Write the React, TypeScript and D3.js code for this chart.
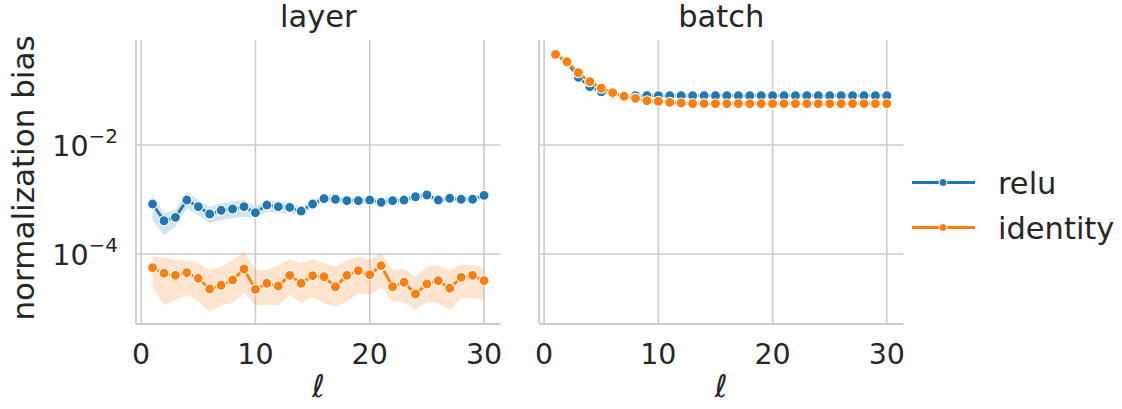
import React from "react";
import * as d3 from "d3";

// ---- data ----
const layers = [1,2,3,4,5,6,7,8,9,10,11,12,13,14,15,16,17,18,19,20,21,22,23,24,25,26,27,28,29,30];
const panels = ["layer", "batch"];
const seriesNames = ["relu", "identity"];
const xTicks = [0, 10, 20, 30];
const yTicks = [1e-2, 1e-4];
const yTickExponents = ["−2", "−4"];

// layer normalization
const layerRelu = [8.26e-4,4.08e-4,4.71e-4,9.79e-4,7.38e-4,5.42e-4,6.34e-4,6.70e-4,7.38e-4,5.73e-4,7.92e-4,7.38e-4,7.19e-4,6.15e-4,8.26e-4,1.035e-3,1.009e-3,9.51e-4,9.51e-4,9.79e-4,8.89e-4,9.51e-4,9.79e-4,1.125e-3,1.21e-3,9.79e-4,1.052e-3,1.009e-3,1.009e-3,1.194e-3];
const layerReluHi = [1.21e-3,5.58e-4,6.41e-4,1.39e-3,9.79e-4,7.38e-4,8.51e-4,9.12e-4,9.79e-4,7.38e-4,9.79e-4,9.12e-4,8.51e-4,7.38e-4,9.79e-4,1.21e-3,1.21e-3,1.125e-3,1.125e-3,1.125e-3,1.052e-3,1.125e-3,1.125e-3,1.30e-3,1.39e-3,1.125e-3,1.21e-3,1.16e-3,1.16e-3,1.39e-3];
const layerReluLo = [4.21e-4,2.23e-4,3.17e-4,6.90e-4,5.20e-4,3.66e-4,4.21e-4,4.52e-4,4.83e-4,4.52e-4,5.97e-4,5.58e-4,5.58e-4,5.20e-4,6.90e-4,8.73e-4,8.51e-4,7.92e-4,7.92e-4,8.51e-4,7.38e-4,7.92e-4,8.51e-4,9.51e-4,1.009e-3,8.51e-4,9.12e-4,8.73e-4,8.73e-4,1.009e-3];
const layerIdentity = [5.61e-5,4.43e-5,4.06e-5,4.54e-5,3.58e-5,2.28e-5,2.67e-5,3.33e-5,5.31e-5,2.25e-5,2.90e-5,2.59e-5,4.06e-5,2.90e-5,4.00e-5,3.83e-5,2.51e-5,4.06e-5,4.94e-5,4.17e-5,6.10e-5,2.51e-5,3.03e-5,1.85e-5,2.82e-5,3.24e-5,2.35e-5,3.73e-5,4.06e-5,3.24e-5];
const layerIdentityHi = [8.91e-5,8.69e-5,7.76e-5,7.54e-5,6.75e-5,5.08e-5,5.85e-5,7.76e-5,1.10e-4,5.08e-5,5.08e-5,6.28e-5,8.00e-5,6.75e-5,8.00e-5,6.75e-5,5.85e-5,7.76e-5,8.91e-5,7.76e-5,1.03e-4,5.08e-5,5.47e-5,3.83e-5,5.85e-5,6.28e-5,5.08e-5,6.28e-5,6.28e-5,5.47e-5];
const layerIdentityLo = [2.51e-5,1.16e-5,1.43e-5,1.77e-5,1.33e-5,8.73e-6,1.16e-5,1.25e-5,1.90e-5,1.16e-5,1.16e-5,1.16e-5,1.77e-5,1.25e-5,1.65e-5,1.25e-5,1.08e-5,1.33e-5,1.90e-5,1.77e-5,2.51e-5,1.33e-5,1.33e-5,9.38e-6,1.33e-5,1.25e-5,9.38e-6,1.54e-5,1.54e-5,1.43e-5];

// batch normalization
const batchRelu = [0.455,0.33,0.175,0.1175,0.095,0.0863,0.081,0.0804,0.0804,0.0804,0.0804,0.0804,0.0804,0.0804,0.0804,0.0804,0.0804,0.0804,0.0804,0.0804,0.0804,0.0804,0.0804,0.0804,0.0804,0.0804,0.0804,0.0804,0.0804,0.0804];
const batchIdentity = [0.461,0.337,0.212,0.145,0.110,0.0912,0.0783,0.0719,0.065,0.0634,0.0607,0.059,0.0578,0.0575,0.0573,0.0573,0.0573,0.0573,0.0573,0.0573,0.0573,0.0573,0.0573,0.0573,0.0573,0.0573,0.0573,0.0573,0.0573,0.0573];

const COLORS = ["#1f77b4", "#ff7f0e"];
const TEXT = "#262626";
const GRID = "#cccccc";
const FONT = "DejaVu Sans";

const W = 1122, H = 409;
const top = 40, bottom = 324;
const xDomain = [-0.45, 31.45];
const panelRanges = [[136, 500.6], [539, 903.4]];
const yDomain = [Math.pow(10, -5.284), Math.pow(10, -0.073)];

const TICK_FS = 28.5;
const LABEL_FS = 31;
const TITLE_FS = 30.5;
const LEGEND_FS = 30.5;

type Series = { mean: number[]; lo?: number[]; hi?: number[] };
const panelSeries: Series[][] = [
  [
    { mean: layerRelu, lo: layerReluLo, hi: layerReluHi },
    { mean: layerIdentity, lo: layerIdentityLo, hi: layerIdentityHi },
  ],
  [{ mean: batchRelu }, { mean: batchIdentity }],
];

export default function App() {
  const y = d3.scaleLog().domain(yDomain).range([bottom, top]);
  return (
    <svg width={W} height={H} style={{ position: "absolute", left: 0, top: 0, background: "#fff" }} fontFamily={FONT}>
      <rect x={0} y={0} width={W} height={H} fill="#fff" />
      {panels.map((title, pi) => {
        const [x0, x1] = panelRanges[pi];
        const x = d3.scaleLinear().domain(xDomain).range([x0, x1]);
        const cx = (x0 + x1) / 2;
        return (
          <g key={title}>
            {xTicks.map((t) => (
              <line key={"gx" + t} x1={x(t)} x2={x(t)} y1={top} y2={bottom} stroke={GRID} strokeWidth={1.6} />
            ))}
            {yTicks.map((t) => (
              <line key={"gy" + t} x1={x0} x2={x1} y1={y(t)} y2={y(t)} stroke={GRID} strokeWidth={1.6} />
            ))}
            <line x1={x0} x2={x0} y1={top} y2={bottom} stroke={GRID} strokeWidth={1.8} />
            <line x1={x0} x2={x1} y1={bottom} y2={bottom} stroke={GRID} strokeWidth={1.8} />
            {panelSeries[pi].map((s, si) => {
              if (!s.lo || !s.hi) return null;
              const area = d3
                .area<number>()
                .x((d) => x(d))
                .y0((_, i) => y(s.lo![i]))
                .y1((_, i) => y(s.hi![i]));
              return <path key={"band" + si} d={area(layers) || ""} fill={COLORS[si]} fillOpacity={0.2} stroke="none" />;
            })}
            {panelSeries[pi].map((s, si) => {
              const line = d3
                .line<number>()
                .x((d) => x(d))
                .y((_, i) => y(s.mean[i]));
              return (
                <g key={"ser" + si}>
                  <path d={line(layers) || ""} fill="none" stroke={COLORS[si]} strokeWidth={2.8} />
                  {layers.map((l, i) => (
                    <circle key={l} cx={x(l)} cy={y(s.mean[i])} r={5} fill={COLORS[si]} stroke="#fff" strokeWidth={1.1} />
                  ))}
                </g>
              );
            })}
            {xTicks.map((t) => (
              <text key={"xt" + t} x={x(t)} y={364} textAnchor="middle" fontSize={TICK_FS} fill={TEXT}>
                {t}
              </text>
            ))}
            <text x={cx} y={27} textAnchor="middle" fontSize={TITLE_FS} fill={TEXT}>
              {title}
            </text>
            <text x={cx} y={397} textAnchor="middle" fontSize={LABEL_FS} fill={TEXT}>
              ℓ
            </text>
            {pi === 0 &&
              yTicks.map((t, i) => (
                <text key={"yt" + t} x={118} y={y(t) + 11} textAnchor="end" fontSize={TICK_FS} fill={TEXT}>
                  10
                  <tspan fontSize={20} dy={-13}>
                    {yTickExponents[i]}
                  </tspan>
                </text>
              ))}
          </g>
        );
      })}
      <text transform="translate(34,178) rotate(-90)" textAnchor="middle" fontSize={LABEL_FS} fill={TEXT}>
        normalization bias
      </text>
      {seriesNames.map((name, i) => {
        const ly = 182.5 + i * 45;
        return (
          <g key={name}>
            <line x1={912} x2={975} y1={ly} y2={ly} stroke={COLORS[i]} strokeWidth={2.8} />
            <circle cx={943} cy={ly} r={4} fill={COLORS[i]} stroke="#fff" strokeWidth={1} />
            <text x={998} y={ly + 11} fontSize={LEGEND_FS} fill={TEXT}>
              {name}
            </text>
          </g>
        );
      })}
    </svg>
  );
}
